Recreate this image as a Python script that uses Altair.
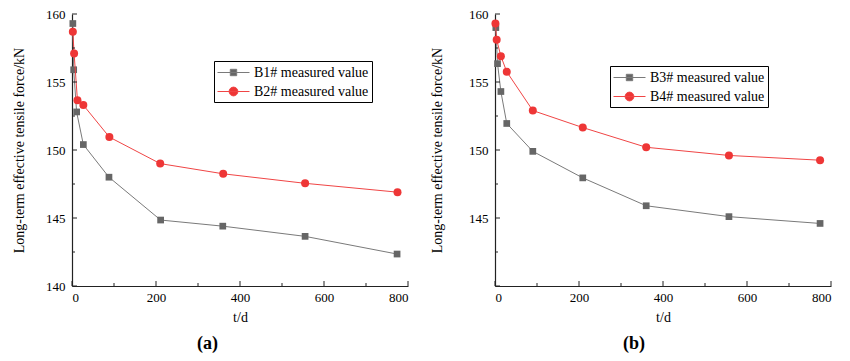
import altair as alt
import pandas as pd

# ---- data ----
t_b1 = [2, 4, 11, 27, 88, 211, 359, 555, 774]
f_b1 = [159.3, 155.9, 152.8, 150.4, 148.0, 144.85, 144.4, 143.65, 142.35]
t_b2 = [2, 5, 13, 27, 89, 210, 360, 555, 775]
f_b2 = [158.7, 157.1, 153.65, 153.3, 150.95, 149.0, 148.25, 147.55, 146.9]
t_b3 = [2, 6, 14, 28, 90, 209, 360, 557, 774]
f_b3 = [159.0, 156.35, 154.3, 151.95, 149.9, 147.95, 145.9, 145.1, 144.6]
t_b4 = [1, 4, 14, 28, 90, 209, 360, 557, 774]
f_b4 = [159.3, 158.1, 156.9, 155.75, 152.9, 151.65, 150.2, 149.6, 149.25]

x_major = [0, 200, 400, 600, 800]
x_minor = [100, 300, 500, 700]
y_major = [140, 145, 150, 155, 160]
y_minor = [142.5, 147.5, 152.5, 157.5]

GRAY_PT, GRAY_LN = "#666666", "#7a7a7a"
RED_PT, RED_LN = "#ee3636", "#f04545"
SQ_PATH = "M-2,0L2,0M-0.4,-0.4L0.4,-0.4L0.4,0.4L-0.4,0.4Z"
CI_PATH = "M-2,0L2,0M0.55,0A0.55,0.55,0,1,1,-0.55,0A0.55,0.55,0,1,1,0.55,0Z"

FONT = "Liberation Serif"
W, H = 336, 272


def panel(name_a, ta, fa, name_b, tb, fb, lx, ly, letter, hide140, ytp, tdx):
    df = pd.DataFrame({"t": ta + tb, "f": fa + fb,
                       "s": [name_a] * len(ta) + [name_b] * len(tb)})
    xs = alt.Scale(domain=[0, 800], nice=False, zero=False, padding=0)
    ys = alt.Scale(domain=[140, 160], nice=False, zero=False, padding=0)
    xax = alt.Axis(title="t/d", values=x_major, ticks=False, tickSize=0,
                   labelPadding=5, titlePadding=6, grid=False)
    yax = alt.Axis(title="Long-term effective tensile force/kN", values=y_major,
                   ticks=False, tickSize=0, labelPadding=7, titlePadding=ytp,
                   grid=False,
                   labelExpr="datum.value == 140 ? '' : datum.label" if hide140 else "datum.label")
    X = alt.X("t:Q", scale=xs, axis=xax)
    Y = alt.Y("f:Q", scale=ys, axis=yax)
    base = alt.Chart(df)
    layers = []
    for name, lc, pc, shape, size in [(name_a, GRAY_LN, GRAY_PT, "square", 45),
                                      (name_b, RED_LN, RED_PT, "circle", 64)]:
        d = base.transform_filter(alt.datum.s == name)
        layers.append(d.mark_line(color=lc, strokeWidth=1).encode(x=X, y=Y))
        layers.append(d.mark_point(shape=shape, filled=True, color=pc, size=size,
                                   opacity=1).encode(x=X, y=Y))
    dom = [name_a, name_b]
    leg = alt.Legend(title=None, orient="none", legendX=lx, legendY=ly)
    layers.append(base.transform_filter("datum.f < 0").mark_point(filled=True, opacity=1).encode(
        x=X, y=Y,
        fill=alt.Fill("s:N", scale=alt.Scale(domain=dom, range=[GRAY_PT, RED_PT]), legend=leg),
        stroke=alt.Stroke("s:N", scale=alt.Scale(domain=dom, range=[GRAY_LN, RED_LN]), legend=leg),
        shape=alt.Shape("s:N", scale=alt.Scale(domain=dom, range=[SQ_PATH, CI_PATH]), legend=leg),
    ))
    # inward ticks
    ymaj = alt.Chart(pd.DataFrame({"f": y_major})).mark_rule(color="#222", strokeWidth=1).encode(
        y=Y, x=alt.value(0), x2=alt.value(5))
    ymin = alt.Chart(pd.DataFrame({"f": y_minor})).mark_rule(color="#222", strokeWidth=1).encode(
        y=Y, x=alt.value(0), x2=alt.value(3))
    xmaj = alt.Chart(pd.DataFrame({"t": x_major})).mark_rule(color="#222", strokeWidth=1).encode(
        x=X, y=alt.value(H), y2=alt.value(H - 5))
    xmin = alt.Chart(pd.DataFrame({"t": x_minor})).mark_rule(color="#222", strokeWidth=1).encode(
        x=X, y=alt.value(H), y2=alt.value(H - 3))
    layers += [ymaj, ymin, xmaj, xmin]
    return alt.layer(*layers).properties(
        width=W, height=H,
        title=alt.TitleParams(letter, orient="bottom", frame="bounds", anchor="middle",
                              font=FONT, fontSize=18, fontWeight="bold", color="black",
                              offset=11, dx=tdx))


left = panel("B1# measured value", t_b1, f_b1, "B2# measured value", t_b2, f_b2,
             142, 47, "(a)", False, 19, -3)
right = panel("B3# measured value", t_b3, f_b3, "B4# measured value", t_b4, f_b4,
              115, 52, "(b)", True, 24, 3)

chart = alt.hconcat(left, right, spacing=21).properties(
    padding={"left": 4, "top": 0, "right": 0, "bottom": 0}
).configure_view(stroke=None).configure_axis(
    labelFont=FONT, labelFontSize=13, labelColor="black",
    titleFont=FONT, titleFontSize=14, titleFontWeight="normal", titleColor="black",
    domainColor="#222", domainWidth=1.2,
).configure_legend(
    strokeColor="black", fillColor="white", padding=3,
    symbolSize=256, labelFont=FONT, labelFontSize=14,
    labelColor="black", labelOffset=12, rowPadding=3,
    symbolStrokeWidth=1, symbolOffset=8,
).resolve_scale(fill="independent", stroke="independent", shape="independent")

chart.save("out.html", embed_options={"renderer": "svg", "actions": False})
